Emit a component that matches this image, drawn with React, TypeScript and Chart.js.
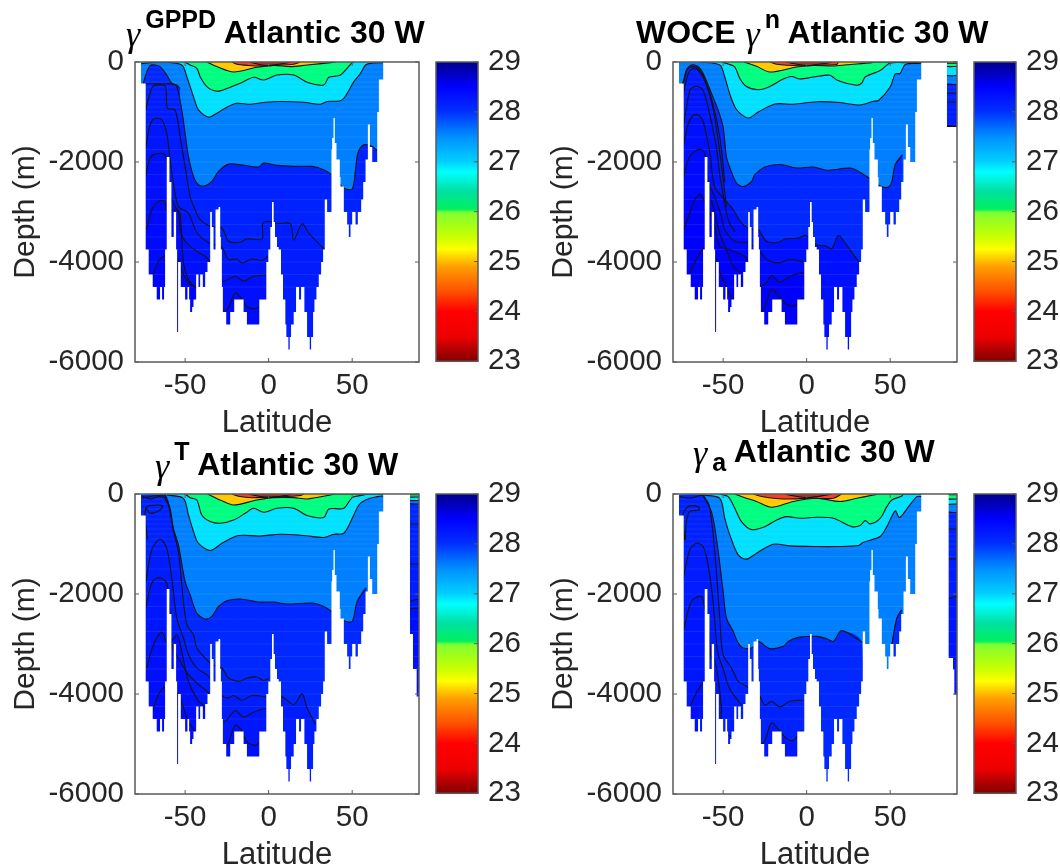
import React, { useEffect, useRef } from "react";
import { Chart, registerables } from "chart.js";

Chart.register(...registerables);

type Pair = number[];

// Sea floor: [latitude, depth]; each depth holds until the next latitude.
const seaFloor: Pair[] = [
  [-80, 0], [-76.4, -430], [-73.6, -3750], [-71.8, -4250], [-69.4, -4500], [-67, -4750], [-65, -4500], [-63.8, -4750], [-62.6, -4500], [-62, -3750],
  [-61, -1900], [-59.4, -2400], [-58.2, -3500], [-56.8, -3000], [-55.4, -3750], [-54.8, -5400], [-54.2, -4000], [-52.6, -4500], [-50, -4750], [-48.6, -4500],
  [-47.6, -4750], [-47, -5000], [-45.8, -4900], [-45, -4750], [-43.4, -4250], [-42, -4500], [-41, -4250], [-39.4, -4500], [-38, -4200], [-36.6, -4000],
  [-35, -3000], [-34, -3300], [-33, -3750], [-31.8, -2950], [-30, -2900], [-29, -3500], [-28.6, -3750], [-28, -4500], [-27.4, -5000], [-25.4, -5250],
  [-23, -5000], [-20.6, -4750], [-15, -5000], [-13, -5250], [-5.6, -4750], [-1.4, -4000], [-0.2, -3750], [1, -3300], [2, -2800], [3, -3200],
  [3.8, -3500], [5, -3700], [6, -3750], [7.4, -4250], [8.6, -4750], [10, -5250], [10.6, -5500], [11.8, -5750], [12.6, -5500], [13.4, -5250],
  [15, -5000], [16.4, -4500], [18.2, -4750], [19.4, -4500], [21.4, -5000], [23, -5500], [24.6, -5750], [25.4, -5500], [26.6, -5000], [27.4, -4750],
  [28.6, -4500], [30, -4250], [31.4, -4000], [32.6, -3750], [33.6, -2750], [35, -3000], [37.6, -1750], [38, -1520], [38.8, -1120], [39.6, -1620],
  [40.6, -1950], [42.6, -2300], [43, -2490], [45, -3000], [47, -3250], [48, -3500], [49, -3250], [50, -3000], [52, -3250], [53.4, -3000],
  [55.4, -2750], [56.6, -2400], [58, -1950], [59.4, -1250], [60.6, -1700], [62, -2000], [65, -1000], [66, -350], [68.6, 0],
];
const floorTail1: Pair[] = [[90, 0]];
const floorTail2: Pair[] = [[84, -1300], [90, -1300]];
const floorTail3: Pair[] = [[84.6, -2800], [86.4, -3500], [88.6, -4050], [90, -4050]];
const floorTail4: Pair[] = [[85, -3280], [87.6, -3510], [88.4, -4010], [90, -4010]];

// Panel 1: gamma GPPD isopycnal depths
const g1: Pair[] = [[-11, 0], [-8, -30], [-4, -60], [0, -70], [5, -50], [10, -25], [13, 0]];
const g2: Pair[] = [[-22, 0], [-19, -45], [-12, -70], [-5, -80], [5, -65], [15, -45], [19, 0]];
const g3: Pair[] = [[-37, 0], [-31, -90], [-21, -200], [-7, -106], [3, -67], [13, -93], [23, -60], [37, -13], [40, 0]];
const g4: Pair[] = [[-50, 0], [-47, -60], [-43, -126], [-41, -293], [-37, -492], [-33, -572], [-29, -578], [-23, -505], [-17, -425], [-9, -306], [-3, -360], [5, -260], [15, -260], [23, -405], [33, -460], [36, -306], [43, -260], [50, -13], [51.4, 0]];
const g5: Pair[] = [[-77, -40], [-71, -13], [-63, 0], [-52, -60], [-49, -293], [-45, -692], [-42, -958], [-36, -1104], [-31, -1024], [-25, -904], [-19, -825], [-11, -845], [-3, -811], [7, -791], [21, -805], [31, -845], [35, -791], [44, -758], [51, -392], [55, -226], [58, -60], [61, -27], [68.6, -13]];
const g6: Pair[] = [[-75, -425], [-73.6, -260], [-71, -73], [-68, -60], [-65, -93], [-61, -260], [-58, -425], [-55, -460], [-53, -530]];
const g7: Pair[] = [[-75, -480], [-73.6, -440], [-62, -440], [-58, -440], [-55, -492], [-52, -960], [-50, -1423], [-48, -1889], [-45, -2288], [-42, -2454], [-38, -2474], [-34, -2387], [-30, -2188], [-24, -2042], [-17, -2055], [-6, -2101], [-3, -2022], [5, -2068], [15, -2088], [26, -2088], [33, -2155], [37.6, -2254], [45, -2520], [50, -2540], [52, -2155], [53.4, -1822], [57, -1656], [62, -1689], [65, -1775]];
const g8: Pair[] = [[-73.6, -960], [-71, -625], [-69, -480], [-62, -480], [-60.6, -925], [-56, -958], [-53, -1490], [-50, -2088], [-47, -2690], [-44, -2954], [-41, -3154], [-35, -3287], [-28, -3320], [-24, -3585], [-17, -3605], [-13, -3538], [-4, -3538], [-3.6, -3233], [0, -3186], [5, -3233], [13, -3233], [15, -3565], [20, -3233], [24, -3420], [32, -3705], [35, -3800]];
const g9: Pair[] = [[-73.6, -1722], [-71, -1257], [-68, -1124], [-64, -1157], [-61, -1423], [-59, -1955], [-57, -2420], [-54, -2890], [-48, -3020], [-43, -3410], [-36, -3610], [-28, -3710], [-24, -3950], [-19, -3940], [-16, -4020], [-10, -3940], [-4, -3970], [-1, -3900], [1.5, -3900]];
const g10: Pair[] = [[-73.6, -2280], [-71, -1922], [-68, -1842], [-62, -1855], [-60, -2387], [-58, -2754], [-54, -3020], [-52.6, -3420], [-49, -3620], [-43, -3790], [-38, -3885], [-35, -4000], [-28, -4384], [-20, -4284], [-15, -4384], [-9, -4284], [-1, -4270]];
const g11: Pair[] = [[-73, -3340], [-70, -2954], [-66, -2787], [-62, -2787], [-61, -2987], [-55, -2950], [-53, -3020], [-51, -4020], [-48, -4350], [-44, -4500], [-26, -4980], [-20, -4616], [-16, -4750], [-13, -4895], [-8, -4935], [-5, -4880]];
const g12: Pair[] = [[-69.4, -4270], [-66, -3985], [-63, -3885], [-61, -3885], [-55, -3920], [-53, -4050], [-51, -4250], [-47, -4450], [-44, -4500]];

// Panel 2: WOCE gamma-n isopycnal depths
const n1: Pair[] = [[-12, 0], [-8, -30], [-3, -60], [2, -70], [6, -50], [12, -25], [15, 0]];
const n2: Pair[] = [[-22, 0], [-18, -45], [-4, -75], [6, -65], [18, -50], [19, 0]];
const n3: Pair[] = [[-37.6, 0], [-30, -85], [-22, -200], [-6, -100], [4, -70], [16, -80], [24, -55], [39, -13], [41, 0], [69, 0], [84, -25], [90, -25]];
const n4: Pair[] = [[-50.6, 0], [-47, -40], [-43, -100], [-40, -330], [-36, -490], [-29, -555], [-22, -490], [-14, -340], [-9, -290], [-4, -340], [4, -300], [14, -265], [18, -360], [30, -465], [33, -420], [35, -300], [44, -170], [50, -20], [58, -13], [69, -13], [84, -90], [90, -90]];
const n5: Pair[] = [[-64, 0], [-52, -60], [-49, -300], [-46, -640], [-42, -950], [-35, -1120], [-29, -1000], [-19, -840], [-8, -845], [6, -795], [20, -810], [32, -860], [40, -785], [43, -770], [50, -500], [53, -240], [56, -225], [59, -50], [67, -27], [69, -27], [84, -270], [90, -270]];
const n6: Pair[] = [[-76, -600], [-73.6, -360], [-72, -160], [-69, -60], [-65, -90], [-62, -226], [-57, -625], [-53, -960], [-50, -1300], [-48, -1900], [-46, -2110], [-42, -2420], [-38, -2490], [-33, -2390], [-31, -2250], [-25, -2100], [-16, -2050], [-6, -2120], [4, -2100], [12, -2165], [27, -2125], [34, -2250], [36, -2290], [44, -2480], [49, -2500], [51, -2390], [53, -2055], [57.4, -1860], [57.5, -6000], [83, -6000], [84, -450], [90, -450]];
const n7: Pair[] = [[-75.4, -700], [-73, -320], [-71, -130], [-68.4, -93], [-65, -130], [-61, -340], [-56.4, -800], [-52, -1500], [-49, -2400], [-48.9, -6000], [83, -6000], [84, -620], [90, -620]];
const n8: Pair[] = [[-74.8, -850], [-72, -350], [-70, -180], [-67.6, -130], [-65, -165], [-60.4, -420], [-55.6, -1000], [-52, -1800], [-48, -2900], [-47.9, -6000], [83, -6000], [84, -800], [90, -800]];
const n9: Pair[] = [[-74, -1320], [-70, -570], [-67.6, -500], [-65, -490], [-62, -570], [-59, -900], [-54, -1700], [-52, -2250], [-47, -3150], [-43, -3400]];
const n10: Pair[] = [[-74, -1700], [-71, -1250], [-68, -1070], [-65, -1060], [-62, -1180], [-58, -1800], [-55, -2500], [-49, -2754], [-44, -2950], [-39, -3220], [-34, -3340], [-29, -3350], [-24, -3585], [-17, -3605], [-13, -3540], [-5, -3520], [-0.4, -3470], [5.2, -3650], [12, -3685], [15, -3740], [19, -3470], [23, -3620], [31, -3985], [33, -4050]];
const n11: Pair[] = [[-74, -2354], [-70, -1889], [-64, -1742], [-61, -1822], [-59, -2387], [-55, -2700], [-51, -3086], [-49, -3350], [-43, -3585], [-35, -3620], [-28, -3785], [-24, -3950], [-17, -4018], [-10, -3950], [-2, -3998]];
const n12: Pair[] = [[-73.6, -3350], [-70, -3020], [-67, -2754], [-63.6, -2640], [-61, -2820], [-56, -3150], [-52, -3685], [-46, -3750], [-39, -3850], [-36, -3915], [-28, -4470], [-24, -4417], [-21, -4270], [-16, -4400], [-9, -4270], [-2, -4217]];
const n13: Pair[] = [[-57, -2754], [-52, -3420], [-48, -3750], [-44, -4084], [-39, -4217]];
const n14: Pair[] = [[-70, -4230], [-67, -4018], [-62, -3740], [-55.6, -3850], [-54, -4018], [-48, -4516], [-44, -4736], [-27, -4982], [-21, -4550], [-16, -4716], [-12, -4850], [-7, -4870], [-2, -4716]];
const n15: Pair[] = [[83, -6000], [84, -1285], [90, -1285]];

// Panel 3: gamma-T isopycnal depths
const t1: Pair[] = [[-12, 0], [-8, -30], [-3, -60], [1, -70], [6, -50], [11, -25], [14, 0]];
const t2: Pair[] = [[-22, 0], [-18, -45], [-10, -75], [0, -60], [10, -50], [19, -30], [21, 0]];
const t3: Pair[] = [[-36.6, 0], [-29, -120], [-21, -220], [-7, -120], [3, -73], [15, -73], [23, -100], [37, -20], [40, 0], [69, 0], [84, -15], [90, -15]];
const t4: Pair[] = [[-50, 0], [-47, -73], [-43, -120], [-40, -420], [-35, -550], [-29, -585], [-21, -520], [-14, -385], [-9, -285], [-3, -365], [5, -285], [15, -285], [23, -430], [33, -470], [36, -300], [45, -285], [50, -73], [57, -20], [59, 0], [69, 0], [84, -60], [90, -60]];
const t5: Pair[] = [[-61, -20], [-51, -86], [-48, -420], [-45, -750], [-42, -985], [-35, -1130], [-27, -965], [-18, -830], [-5, -840], [7, -805], [21, -830], [33, -870], [39, -805], [45, -785], [51, -420], [54, -220], [58, -120], [65, -53], [68, -40], [84, -130], [90, -130]];
const t6: Pair[] = [[-62, -20], [-59, -286], [-57, -685], [-54, -1017], [-50, -1750], [-47, -2015], [-43, -2380], [-38, -2500], [-34, -2447], [-30, -2250], [-25, -2135], [-17, -2100], [-6, -2160], [3, -2160], [11, -2200], [26, -2180], [33, -2250], [37, -2334], [45, -2533], [50, -2546], [53, -2148], [58.4, -1880], [58.5, -6000], [83, -6000], [84, -200], [90, -200]];
const t7: Pair[] = [[-63, -53], [-60, -220], [-57.4, -685], [-54, -1150], [-52, -1815], [-49, -2613], [-45, -2814], [-43, -3080], [-38, -3280], [-34, -3410], [-28, -3480], [-24, -3680], [-17, -3745], [-13, -3680], [-7, -3660], [-3, -3730], [0, -3690], [0.1, -6000], [83, -6000], [84, -600], [90, -600]];
const t8: Pair[] = [[-73.4, -1750], [-70, -1117], [-65, -904], [-61, -1084], [-58, -1682], [-55, -2480], [-51, -2880], [-48, -3210], [-43, -3480], [-36, -3645], [-28, -4030], [-24, -4077], [-21, -4030], [-16, -4124], [-10, -4030], [-1, -4058], [8, -4058], [15, -4210], [20, -3998], [23, -4277], [28, -4610], [28.1, -6000], [83, -6000], [84, -1400], [90, -1400]];
const t9: Pair[] = [[-73.6, -2280], [-70, -1782], [-66, -1670], [-61, -1782], [-59, -2480], [-58, -3010], [-53, -3346], [-48, -3612], [-42, -3810], [-36, -3978], [-27, -4556], [-20, -4330], [-15, -4463], [-9, -4363], [-2, -4290], [-1.9, -6000], [83, -6000], [84, -2150], [90, -2100]];
const t10: Pair[] = [[-73, -3480], [-69, -3014], [-64, -2766], [-60, -3014], [-55, -2814], [-52, -3147], [-48, -3745], [-42, -4144], [-39, -4230], [-26, -5060], [-20, -4623], [-16, -4743], [-13, -4955], [-8, -5028], [-5, -4955], [-4.9, -6000], [83, -6000], [84, -2300], [90, -2280]];
const t11: Pair[] = [[-69.4, -4330], [-66, -4010], [-62, -3865], [-55, -3978], [-53, -4077], [-48, -4556], [-44, -4743]];
const tTop1: Pair[] = [[-76, -40], [-71, -100], [-66, -53], [-61.4, -66]];
const tTop2: Pair[] = [[-76, -86], [-69, -40], [-61.4, -20]];
const tTop3: Pair[] = [[-72.6, -917], [-73, -750], [-74, -485], [-73.4, -272], [-71, -233], [-63.6, -233], [-65, -320], [-71, -385], [-73.4, -272]];

// Panel 4: gamma-a isopycnal depths
const a1: Pair[] = [[-13, 0], [-9, -30], [-4, -60], [2, -70], [7, -50], [11, -25], [15, 0]];
const a2: Pair[] = [[-32, 0], [-26, -55], [-14, -100], [2, -85], [16, -85], [21, 0]];
const a3: Pair[] = [[-43, 0], [-37, -73], [-30, -150], [-21, -266], [-8, -150], [6, -86], [20, -150], [30, -86], [40, -20], [43, 0], [69, 0], [84, -15], [90, -15]];
const a4: Pair[] = [[-52, 0], [-47, -53], [-43, -286], [-39, -552], [-33, -712], [-25, -652], [-18, -519], [-12, -452], [-4, -486], [6, -466], [16, -486], [27, -652], [32, -632], [35, -532], [38, -598], [44, -486], [48, -253], [51, -120], [57, -40], [58, 0], [69, 0], [84, -100], [90, -100]];
const a5: Pair[] = [[-62, -20], [-52, -86], [-49, -486], [-46, -818], [-41, -1217], [-36, -1303], [-30, -1184], [-20, -1004], [-10, -1037], [6, -1050], [18, -1050], [31, -1030], [34, -964], [44, -851], [48, -652], [53, -339], [55.6, -472], [61, -253], [66, -53], [69, -53], [84, -200], [90, -200]];
const a6: Pair[] = [[-62, -20], [-57, -352], [-54, -884], [-50, -1948], [-48, -2480], [-44, -2746], [-41, -2979], [-38, -3080], [-32, -3067], [-29, -2947], [-22, -3093], [-14, -3047], [-11, -2947], [-5, -2867], [6, -2847], [12, -2894], [16, -2947], [21, -2733], [33, -2960], [33.1, -6000], [50.9, -6000], [51, -3013], [54, -2480], [57, -2314], [57.1, -6000], [83, -6000], [84, -370], [90, -370]];
const a7: Pair[] = [[-62, -53], [-58.4, -220], [-55, -1150], [-52, -2480], [-50, -3213], [-45, -3480], [-41, -3745], [-36, -3845], [-28.4, -4030], [-25, -4224], [-21, -4144], [-16, -4257], [-10, -4144], [-2, -4124], [-1.9, -6000], [83, -6000], [84, -700], [90, -700]];
const a8: Pair[] = [[-74, -1716], [-70, -1117], [-66, -984], [-62, -1050], [-59, -1416], [-56, -2148], [-54, -2946], [-53, -3200], [-50, -3500], [-46, -3900], [-39, -4224], [-38.9, -6000], [83, -6000], [84, -1300], [90, -1300]];
const a9: Pair[] = [[-73.6, -2713], [-69, -2148], [-63, -2048], [-61, -2281], [-59, -2547], [-58, -3013], [-57, -3280], [-55, -3333], [-53, -3678], [-51, -4277], [-50, -4743], [-27, -5008], [-21, -4576], [-16, -4743], [-12, -4889], [-8, -4929], [-3, -4723], [-2.9, -6000], [83, -6000], [84, -2100], [90, -2050]];
const a10: Pair[] = [[-70, -4264], [-65, -3911], [-61.4, -3745]];
const aTop1: Pair[] = [[-76, -53], [-70, -86], [-65, -40], [-62, -20]];
const aTop2: Pair[] = [[-73, -917], [-74, -420], [-71, -253], [-65, -253], [-64.4, -320], [-70, -352], [-72, -552], [-72.6, -917]];

const colorsTop = ["#ff3c28", "#ffc800", "#00ff80", "#00e0ff", "#0080ff"];
const colorsDeep = ["#0028ff", "#0022ff", "#001cff", "#0016ff", "#0010ff", "#000aff", "#0004ff", "#0000ff", "#0000ff", "#000040"];
const baseColor = "#a8321e";

const stripeDepths = [-100, -200, -300, -400, -500, -600, -700, -800, -900, -1000, -1100, -1250, -1500, -1750, -2000, -2250, -2500, -2750, -3000, -3250, -3500, -3750, -4000, -4250, -4500];

const xTickValues = [-50, 0, 50];
const barStops: [number, string][] = [
  [29, "#00008c"], [28.5, "#0000ff"], [28, "#0030ff"], [27.5, "#0090ff"], [27, "#00d0ff"], [26.8, "#00ffff"], [26.4, "#00e0a0"], [26.05, "#00f060"],
  [25.98, "#80ff30"], [25.5, "#c8ff00"], [25.25, "#ffff00"], [24.9, "#ffa000"], [24.4, "#ff5000"], [24, "#ff0000"], [23.5, "#ee0000"], [23, "#800000"],
];

const FONT = "'Liberation Sans', Arial, sans-serif";
const INK = "#262626";
const FRAME = "#5a5a5a";
const TICK_SIZE = 29.5;
const LABEL_SIZE = 31;
const DEPTH_LABEL_SIZE = 30;

const framePlugin = {
  id: "frame",
  afterDraw(chart: any) {
    const { ctx, chartArea: a, scales } = chart;
    ctx.save();
    ctx.strokeStyle = FRAME;
    ctx.lineWidth = 1.5;
    ctx.strokeRect(a.left, a.top, a.width, a.height);
    ctx.lineWidth = 1;
    ctx.beginPath();
    const isBar = chart.config.type === "bar";
    (scales.y.ticks as any[]).forEach((t) => {
      const y = scales.y.getPixelForValue(t.value);
      if (!isBar) {
        ctx.moveTo(a.left, y);
        ctx.lineTo(a.left + 4, y);
      }
      ctx.moveTo(a.right, y);
      ctx.lineTo(a.right - 4, y);
    });
    if (!isBar) {
      (scales.x.ticks as any[]).forEach((t) => {
        const x = scales.x.getPixelForValue(t.value);
        ctx.moveTo(x, a.bottom);
        ctx.lineTo(x, a.bottom - 4);
        ctx.moveTo(x, a.top);
        ctx.lineTo(x, a.top + 4);
      });
    }
    ctx.stroke();
    ctx.restore();
  },
};

const toPoints = (pts: Pair[]) => pts.map(([x, y]) => ({ x, y }));

function fillPoints(pts: Pair[]) {
  const first = pts[0];
  const last = pts[pts.length - 1];
  const out: Pair[] = [[-80, first[1]], ...pts];
  if (last[0] < 90) {
    if (last[1] === 0) out.push([90, 0]);
    else out.push([last[0] + 0.05, -6000], [90, -6000]);
  }
  return toPoints(out);
}

function linePoints(pts: Pair[]) {
  return pts.map(([x, y], i) => {
    const prev = pts[i - 1];
    const next = pts[i + 1];
    const flatZero = y === 0 && !(prev && prev[1] < 0 && prev[1] > -6000) && !(next && next[1] < 0 && next[1] > -6000);
    return { x, y: y === -6000 || flatZero ? NaN : y };
  });
}

const lineStyle = { showLine: true, pointRadius: 0, borderWidth: 0, tension: 0.3, parsing: false };

function PanelChart({ left, top, isos, tail, extra }: { left: number; top: number; isos: Pair[][]; tail: Pair[]; extra: Pair[][] }) {
  const ref = useRef<HTMLCanvasElement>(null);
  useEffect(() => {
    const colors = [...colorsTop, ...colorsDeep];
    const fills = isos.map((pts, i) => ({
      ...lineStyle,
      data: fillPoints(pts),
      backgroundColor: colors[i],
      borderColor: colors[i],
      fill: "start",
    }));
    const base = {
      ...lineStyle,
      data: toPoints([[-80, 0], [90, 0]]),
      backgroundColor: baseColor,
      fill: "start",
    };
    const stripes = stripeDepths.map((d) => ({
      ...lineStyle,
      data: toPoints([[-80, d], [90, d]]),
      borderColor: "rgba(255,255,255,0.08)",
      borderWidth: 1,
      fill: false,
    }));
    const contours = [...isos, ...extra].map((pts) => ({
      ...lineStyle,
      data: linePoints(pts),
      borderColor: "#141414",
      borderWidth: 1.1,
      fill: false,
      spanGaps: false,
    }));
    const mask = {
      ...lineStyle,
      tension: 0,
      data: toPoints([...seaFloor, ...tail]),
      stepped: "before",
      backgroundColor: "#ffffff",
      fill: "start",
    };
    // Chart.js paints the first dataset last.
    const datasets = [mask, ...contours, ...stripes, ...[...fills].reverse(), base];
    const chart = new Chart(ref.current!, {
      type: "scatter",
      data: { datasets: datasets as any },
      plugins: [framePlugin],
      options: {
        animation: false,
        responsive: false,
        layout: { padding: { top: 62, right: 11, left: 0, bottom: 0 } },
        plugins: { legend: { display: false }, tooltip: { enabled: false } },
        scales: {
          x: {
            type: "linear",
            min: -80,
            max: 90,
            grid: { display: false, drawTicks: false },
            border: { display: false },
            afterBuildTicks: (s: any) => {
              s.ticks = xTickValues.map((value) => ({ value }));
            },
            afterFit: (s: any) => {
              s.height = 77;
            },
            ticks: {
              autoSkip: false,
              maxRotation: 0,
              padding: 6,
              color: INK,
              font: { family: FONT, size: TICK_SIZE },
              callback: (v: any) => String(v),
            },
            title: {
              display: true,
              text: "Latitude",
              color: INK,
              padding: 0,
              font: { family: FONT, size: LABEL_SIZE, lineHeight: 1 },
            },
          },
          y: {
            type: "linear",
            min: -6000,
            max: 0,
            grid: { display: false, drawTicks: false },
            border: { display: false },
            afterFit: (s: any) => {
              s.width = 135;
            },
            ticks: {
              stepSize: 2000,
              autoSkip: false,
              padding: 11,
              color: INK,
              font: { family: FONT, size: TICK_SIZE },
              callback: (v: any) => String(v),
            },
            title: {
              display: true,
              text: "Depth (m)",
              color: INK,
              padding: { top: 11, bottom: 0 },
              font: { family: FONT, size: DEPTH_LABEL_SIZE, lineHeight: 1 },
            },
          },
        },
      } as any,
    });
    return () => chart.destroy();
  }, []);
  return <canvas ref={ref} width={430} height={439} style={{ position: "absolute", left, top, width: 430, height: 439 }} />;
}

function ColorBar({ left, top }: { left: number; top: number }) {
  const ref = useRef<HTMLCanvasElement>(null);
  useEffect(() => {
    const chart = new Chart(ref.current!, {
      type: "bar",
      data: {
        labels: ["density"],
        datasets: [
          {
            data: [[23, 29]] as any,
            barPercentage: 1,
            categoryPercentage: 1,
            backgroundColor: (c: any) => {
              const a = c.chart.chartArea;
              if (!a) return "#0000ff";
              const g = c.chart.ctx.createLinearGradient(0, a.top, 0, a.bottom);
              barStops.forEach(([v, col]) => g.addColorStop((29 - v) / 6, col));
              return g;
            },
          },
        ],
      },
      plugins: [framePlugin],
      options: {
        animation: false,
        responsive: false,
        layout: { padding: { top: 62, left: 10, right: 0, bottom: 19 } },
        plugins: { legend: { display: false }, tooltip: { enabled: false } },
        scales: {
          x: { display: false },
          y: {
            position: "right",
            min: 23,
            max: 29,
            grid: { display: false, drawTicks: false },
            border: { display: false },
            afterFit: (s: any) => {
              s.width = 44;
            },
            ticks: {
              stepSize: 1,
              padding: 10,
              color: INK,
              font: { family: FONT, size: TICK_SIZE },
            },
          },
        },
      } as any,
    });
    return () => chart.destroy();
  }, []);
  return <canvas ref={ref} width={96} height={389} style={{ position: "absolute", left, top, width: 96, height: 389 }} />;
}

const boldStyle: React.CSSProperties = { fontFamily: FONT, fontWeight: 700, fontSize: 32, color: "#000" };
const gammaStyle: React.CSSProperties = {
  fontFamily: "'Liberation Serif', serif",
  fontWeight: 400,
  fontStyle: "italic",
  fontSize: 36,
  color: "#000",
  position: "relative",
  top: 3,
  marginLeft: 1,
  marginRight: 5,
};

function Title({ left, top, before, script, sub }: { left: number; top: number; before?: string; script: string; sub?: boolean }) {
  return (
    <div style={{ position: "absolute", left, top, whiteSpace: "pre", lineHeight: "36px", ...boldStyle }}>
      {before ? <span>{before} </span> : null}
      <span style={gammaStyle}>γ</span>
      <span style={{ ...boldStyle, fontSize: 25, position: "relative", top: sub ? 9 : -15 }}>{script}</span>
      <span> Atlantic 30 W</span>
    </div>
  );
}

export default function App() {
  const panel1 = [g1, g2, g3, g4, g5, g6, g7, g8, g9, g10, g11, g12];
  const panel2 = [n1, n2, n3, n4, n5, n6, n7, n8, n9, n10, n11, n13, n12, n14, n15];
  const panel3 = [t1, t2, t3, t4, t5, t6, t7, t8, t9, t10, t11];
  const panel4 = [a1, a2, a3, a4, a5, a6, a7, a8, a9, a10];
  return (
    <div style={{ position: "absolute", left: 0, top: 0, width: 1060, height: 867, overflow: "hidden", background: "#fff" }}>
      <PanelChart left={0} top={0} isos={panel1} tail={floorTail1} extra={[]} />
      <PanelChart left={538} top={0} isos={panel2} tail={floorTail2} extra={[]} />
      <PanelChart left={0} top={432} isos={panel3} tail={floorTail3} extra={[tTop1, tTop2, tTop3]} />
      <PanelChart left={538} top={432} isos={panel4} tail={floorTail4} extra={[aTop1, aTop2]} />
      <ColorBar left={426} top={0} />
      <ColorBar left={964} top={0} />
      <ColorBar left={426} top={432} />
      <ColorBar left={964} top={432} />
      <Title left={125} top={13} script="GPPD" />
      <Title left={636} top={13} before="WOCE" script="n" />
      <Title left={154} top={445} script="T" />
      <Title left={692} top={432} script="a" sub />
    </div>
  );
}
